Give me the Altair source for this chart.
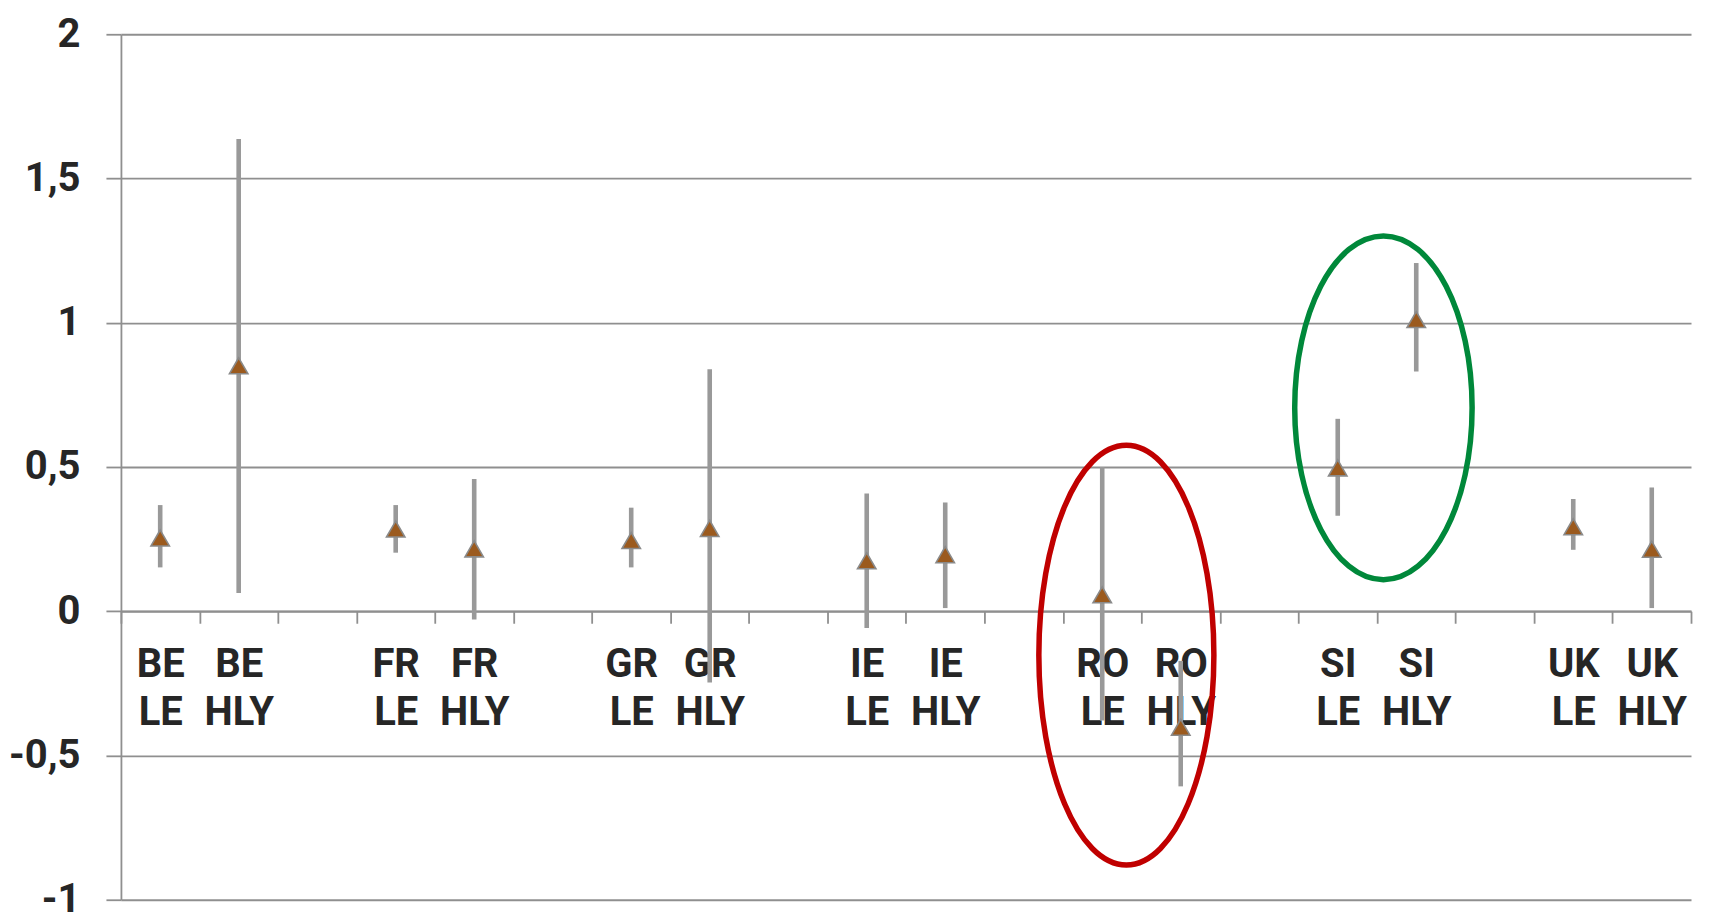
import altair as alt
import pandas as pd

# ---- data ----
countries = ["BE", "FR", "GR", "IE", "RO", "SI", "UK"]
indicators = ["LE", "HLY"]
estimate = [0.254, 0.851, 0.285, 0.216, 0.245, 0.287, 0.175, 0.196,
            0.057, -0.402, 0.497, 1.011, 0.293, 0.215]
lower = [0.152, 0.063, 0.203, -0.029, 0.152, -0.247, -0.058, 0.011,
         -0.379, -0.607, 0.331, 0.831, 0.213, 0.011]
upper = [0.368, 1.637, 0.368, 0.458, 0.359, 0.839, 0.408, 0.377,
         0.500, -0.172, 0.667, 1.207, 0.389, 0.429]
y_ticks = [-1, -0.5, 0, 0.5, 1, 1.5, 2]

# annotation ellipses: anchor category, centre value, colour
ell_cat = ["RO LE", "SI HLY"]
ell_val = [-0.152, 0.705]
ell_color = ["#c00000", "#00883a"]

# ---- build tables ----
cats = []
order = []
for i, c in enumerate(countries):
    for ind in indicators:
        cats.append(f"{c} {ind}")
        order.append(f"{c} {ind}")
    if i < len(countries) - 1:
        order.append(f"gap{i}")

df = pd.DataFrame({"cat": cats, "est": estimate, "lo": lower, "hi": upper})


def ellipse_path(a, cx):
    k = 0.5523
    return (f"M{cx + a},0 C{cx + a},{k} {cx + a * k},1 {cx},1 "
            f"C{cx - a * k},1 {cx - a},{k} {cx - a},0 "
            f"C{cx - a},{-k} {cx - a * k},-1 {cx},-1 "
            f"C{cx + a * k},-1 {cx + a},{-k} {cx + a},0 Z")


ell = pd.DataFrame({
    "cat": ell_cat,
    "val": ell_val,
    "color": ell_color,
    "shape": [ellipse_path(0.417, 0.115), ellipse_path(0.516, -0.191)],
    "size": [4 * 210 ** 2, 4 * 172 ** 2],
})

W, H = 1571, 866
FONT = "Roboto"
GRID = "#8f8f8f"

xscale = alt.Scale(type="band", domain=order, paddingInner=0, paddingOuter=0)
yscale = alt.Scale(domain=[-1, 2], nice=False, zero=False)

xaxis = alt.Axis(
    title=None, orient="bottom", offset=-H / 3, tickBand="extent",
    labelAngle=0, labelFont=FONT, labelFontSize=40, labelFontWeight="bold",
    labelColor="#262626", labelBaseline="top", labelLineHeight=48,
    labelPadding=21, labelOverlap=False,
    labelExpr="indexof(datum.label, 'gap') == 0 ? '' : split(datum.label, ' ')",
    domainColor=GRID, domainWidth=1.8, tickColor=GRID, tickWidth=1.8,
    tickSize=12, grid=False,
)
yaxis = alt.Axis(
    title=None, values=y_ticks, labelExpr="replace(toString(datum.value), '.', ',')",
    labelFont=FONT, labelFontSize=40, labelFontWeight="bold", labelColor="#262626",
    labelPadding=26, tickSize=15, tickColor=GRID, tickWidth=1.8,
    domainColor=GRID, domainWidth=1.8, gridColor=GRID, gridWidth=1.8,
)

base = alt.Chart(df)

bars = base.mark_rule(color="#999999", strokeWidth=4.6).encode(
    x=alt.X("cat:N", scale=xscale, axis=xaxis, sort=order),
    y=alt.Y("lo:Q", scale=yscale, axis=yaxis),
    y2="hi:Q",
)

points = base.mark_point(
    shape="triangle-up", filled=True, fill="#9b5a1e", stroke="#8a8a8a",
    strokeWidth=1.6, size=340, opacity=1,
).encode(
    x=alt.X("cat:N", scale=xscale, sort=order),
    y=alt.Y("est:Q", scale=yscale),
)

ellipses = alt.Chart(ell).mark_point(filled=False, strokeWidth=5.5, opacity=1).encode(
    x=alt.X("cat:N", scale=xscale, sort=order),
    y=alt.Y("val:Q", scale=yscale),
    shape=alt.Shape("shape:N", scale=None),
    size=alt.Size("size:Q", scale=None),
    stroke=alt.Stroke("color:N", scale=None),
)

chart = alt.layer(bars, points, ellipses).properties(
    width=W, height=H,
    autosize=alt.AutoSizeParams(type="none"),
    padding={"left": 113, "top": 26, "right": 10, "bottom": 22},
    background="white",
).configure_view(stroke=None)

chart.save("out.html", embed_options={"renderer": "svg", "actions": False})
